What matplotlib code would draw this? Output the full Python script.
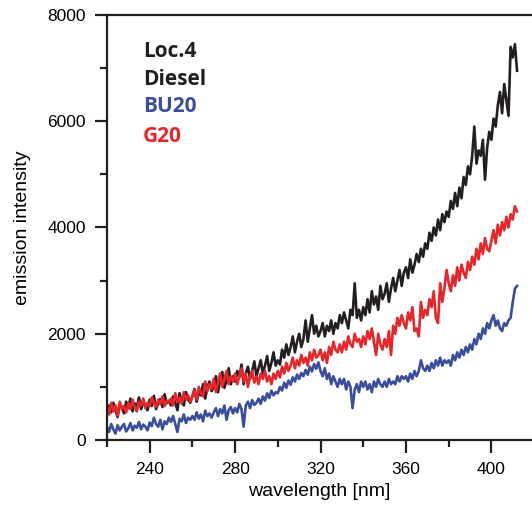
import numpy as np
import matplotlib
matplotlib.use("Agg")
import matplotlib.pyplot as plt
from matplotlib.ticker import MultipleLocator

wavelength = list(range(220, 413))

diesel = [
    480, 650, 520, 700, 560, 430, 680, 610, 500, 720,
    600, 780, 540, 690, 620, 800, 580, 720, 650, 560,
    760, 640, 830, 580, 700, 770, 620, 860, 690, 740,
    650, 820, 700, 560, 880, 720, 650, 900, 760, 700,
    820, 960, 720, 900, 840, 1050, 780, 980, 1100, 920,
    1000, 1200, 900, 1150, 1280, 980, 1120, 1350, 1050, 1200,
    1100, 1300, 1180, 1420, 1050, 1250, 1380, 1150, 1300, 1480,
    1200, 1350, 1500, 1250, 1400, 1580, 1300, 1450, 1650, 1400,
    1500, 1420, 1700, 1550, 1800, 1600, 1750, 1950, 1650, 1850,
    2000, 1750, 1900, 2250, 1850, 2100, 2350, 2000, 2150, 1950,
    2050, 2200, 1950, 2150, 2050, 2250, 2000, 2200, 2100, 2350,
    2200, 2400, 2250, 2100, 2450, 2350, 2950, 2300, 2450, 2250,
    2500, 2350, 2650, 2400, 2800, 2550, 2700, 2450, 2900, 2650,
    2750, 2950, 2600, 2850, 3050, 2800, 3000, 3200, 2900, 3150,
    3250, 3050, 3400, 3150, 3300, 3500, 3350, 3600, 3450, 3700,
    3600, 3900, 3750, 4000, 3850, 4150, 3950, 4250, 4100, 4300,
    4200, 4500, 4350, 4650, 4400, 4750, 4550, 4950, 4800, 5150,
    5000, 5350, 5900, 5200, 5450, 5350, 5650, 4900, 5500, 5800,
    5650, 6050, 5900, 6300, 6550, 6150, 6700, 6400, 6100, 7400,
    7200, 7450, 6950,
]

bu20 = [
    250, 150, 300, 200, 120, 280, 180, 250, 300, 160,
    220, 320, 180, 270, 230, 340, 200, 290, 250, 180,
    330, 260, 420, 300, 250, 380, 200, 350, 300, 420,
    340, 450, 300, 150, 400, 350, 480, 320, 420, 380,
    450, 380, 520, 400, 480, 350, 550, 450, 500, 420,
    520, 600, 450, 580, 500, 650, 380, 560, 620, 500,
    600, 520, 680, 580, 250, 650, 720, 600, 750, 660,
    700, 780, 680, 820, 740, 880, 790, 930, 840, 900,
    880, 1000, 930, 1080, 980, 1120, 1040, 1180, 1100, 1230,
    1150, 1260, 1200, 1320, 1230, 1380, 1290, 1430, 1340, 1460,
    1300, 1200, 1350, 1150, 1250, 1050, 1200, 1100, 1000, 1150,
    1050, 1150, 950, 1100, 1000, 600, 950, 1050, 900, 1100,
    1000, 1100, 950, 1050, 900, 1100, 1000, 1150, 1050, 1000,
    1100, 1000, 1150, 1050, 1100, 1050, 1200, 1100, 1200, 1150,
    1200, 1100, 1250, 1150, 1300, 1200, 1300, 1500, 1350, 1300,
    1400, 1300, 1450, 1350, 1500, 1400, 1550, 1400, 1500, 1450,
    1500, 1400, 1600, 1500, 1650, 1550, 1700, 1600, 1750, 1650,
    1800, 1700, 1900, 1800, 2000, 1900, 2100, 2000, 2200, 2100,
    2250, 2350, 2150, 2250, 2100, 2050, 2200, 2150, 2250, 2300,
    2600, 2850, 2900,
]

g20 = [
    620, 480, 700, 540, 650, 450, 720, 580, 640, 520,
    700, 580, 760, 620, 540, 720, 650, 780, 600, 700,
    640, 800, 700, 620, 760, 680, 820, 640, 740, 700,
    780, 650, 880, 720, 800, 680, 900, 760, 840, 720,
    820, 940, 760, 1000, 880, 820, 1100, 920, 1050, 960,
    1150, 900, 1080, 1250, 1000, 1150, 1300, 1050, 1200, 1100,
    1250, 1050, 1200, 1350, 1100, 1250, 1000, 1200, 1300, 1080,
    1200, 1050, 1250, 1150, 1300, 1100, 1200, 1050, 1250, 1150,
    1300, 1180, 1380, 1250, 1450, 1300, 1400, 1550, 1350, 1500,
    1400, 1600, 1450, 1550, 1400, 1650, 1500, 1700, 1550, 1600,
    1700, 1500, 1650, 1450, 1750, 1600, 1850, 1700, 1650, 1800,
    1650, 1850, 1700, 1950, 1800, 1750, 2000, 1850, 1900, 1750,
    1950, 1800, 2050, 1900, 2100, 1850, 1600, 2000, 1800, 1700,
    1900, 1750, 2050, 1600, 2150, 2000, 2300, 2150, 2350, 2200,
    2100, 2400, 2250, 2500, 2050, 2100, 1950, 2600, 2300, 2450,
    2350, 2650, 2500, 2800, 2300, 2200, 2950, 2600, 2850, 3200,
    2950, 2800, 3100, 2900, 3250, 3000, 3300, 3150, 3050, 3350,
    3200, 3450, 3300, 3600, 3400, 3700, 3500, 3800, 3600, 3550,
    3750, 3950, 3700, 4050, 3850, 4100, 3950, 4200, 4000, 4250,
    4150, 4400, 4300,
]

labels = ["Loc.4", "Diesel", "BU20", "G20"]
label_colors = ["#231f20", "#231f20", "#3a4ea0", "#e8262a"]

fig = plt.figure(figsize=(5.32, 5.09), dpi=100)
ax = fig.add_axes([0.201, 0.1356, 0.799, 0.835])

ax.plot(wavelength, diesel, color="#231f20", lw=1.9)
ax.plot(wavelength, bu20, color="#3a4ea0", lw=1.9)
ax.plot(wavelength, g20, color="#e8262a", lw=1.9)

ax.set_xlim(220, 419)
ax.set_ylim(0, 8000)
ax.xaxis.set_major_locator(MultipleLocator(40))
ax.xaxis.set_minor_locator(MultipleLocator(20))
ax.yaxis.set_major_locator(MultipleLocator(2000))
ax.yaxis.set_minor_locator(MultipleLocator(1000))
ax.set_xticks([240, 280, 320, 360, 400])

for s in ["left", "bottom", "top"]:
    ax.spines[s].set_linewidth(1.6)
    ax.spines[s].set_color("#231f20")
ax.spines["right"].set_visible(False)

ax.tick_params(axis="both", which="major", direction="out", length=9, width=1.6,
               color="#231f20", labelsize=12.5)
ax.tick_params(axis="x", which="major", pad=7)
ax.tick_params(axis="y", which="major", pad=6)
ax.tick_params(axis="both", which="minor", direction="out", length=5, width=1.6,
               color="#231f20")
ax.tick_params(top=False, right=False, which="both")
for lab in ax.get_xticklabels() + ax.get_yticklabels():
    lab.set_family("Liberation Sans")

ax.set_xlabel("wavelength [nm]", family="Liberation Sans", fontsize=14, labelpad=4)
ax.set_ylabel("emission intensity", family="Liberation Sans", fontsize=14, labelpad=12)

ys = [0.915, 0.849, 0.784, 0.715]
for t, c, y in zip(labels, label_colors, ys):
    ax.text(0.085, y, t, transform=ax.transAxes, color=c, fontsize=15,
            fontweight="bold", family="Open Sans", va="center", ha="left")

fig.savefig("out.png", dpi=100)
